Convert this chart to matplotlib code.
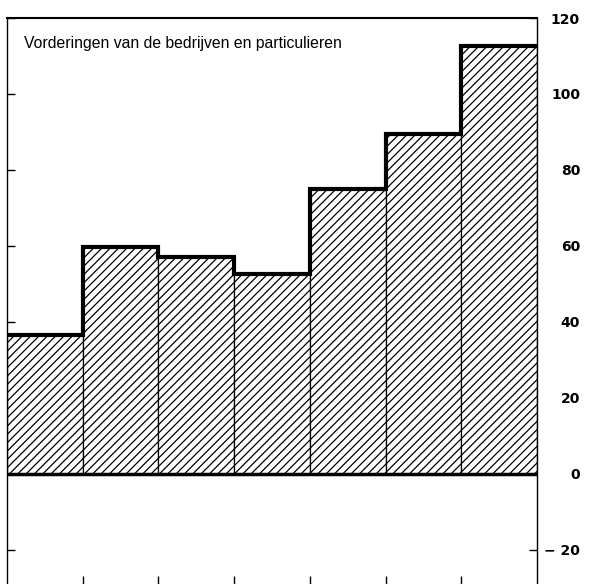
import matplotlib
matplotlib.use("Agg")
import matplotlib.pyplot as plt
import numpy as np

# bar heights, left to right
values = [36.5, 59.7, 57.0, 52.5, 75.0, 89.5, 112.5]
y_ticks = [-20, 0, 20, 40, 60, 80, 100, 120]
y_labels = ["\u2212 20", "0", "20", "40", "60", "80", "100", "120"]
title = "Vorderingen van de bedrijven en particulieren"

plt.rcParams["hatch.linewidth"] = 0.9
plt.rcParams["font.family"] = ["Liberation Sans", "DejaVu Sans"]

fig = plt.figure(figsize=(5.96, 5.84), dpi=100)
ax = fig.add_axes([7 / 596, 0.0, (537 - 7) / 596, 1 - 18 / 584])

edges = np.arange(len(values) + 1)
ax.bar(edges[:-1], values, width=1.0, align="edge", color="white",
       edgecolor="black", linewidth=0.9, hatch="////", zorder=2)
ax.stairs(values, edges, baseline=None, color="black", linewidth=3.0,
          zorder=3)
ax.axhline(0, color="black", linewidth=2.5, zorder=4)

ax.set_xlim(0, len(values))
ax.set_ylim(-29, 120)

ax.set_yticks(y_ticks)
ax.set_yticklabels(y_labels, fontsize=10, fontweight="bold",
                   family="DejaVu Sans", ha="right")
ax.tick_params(axis="y", direction="in", left=True, right=True,
               labelleft=False, labelright=True, length=6, width=1.0,
               pad=31)
ax.set_xticks(edges[1:-1])
ax.set_xticklabels([])
ax.tick_params(axis="x", direction="in", bottom=True, length=6, width=1.0)

for side in ("left", "right"):
    ax.spines[side].set_linewidth(1.0)
ax.spines["top"].set_linewidth(1.5)
ax.spines["bottom"].set_visible(False)

ax.text(0.033, 0.955, title, transform=ax.transAxes, fontsize=11.3,
        ha="left", va="center", zorder=5)

fig.savefig("out.png", dpi=100)
